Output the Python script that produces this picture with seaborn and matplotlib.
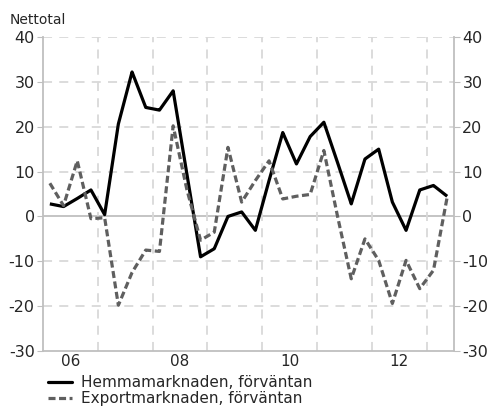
import numpy as np
import pandas as pd
import seaborn as sns
import matplotlib.pyplot as plt
from matplotlib.ticker import MultipleLocator, FixedLocator
from matplotlib.lines import Line2D

# quarterly data, 2006Q1 - 2013Q2
quarters = pd.period_range("2006Q1", "2013Q2", freq="Q")
hemma = [2.8, 2.2, 4.0, 5.9, 0.4, 20.6, 32.2, 24.3, 23.7, 28.0,
         9.5, -9.0, -7.2, 0.0, 1.0, -3.1, 8.0, 18.7, 11.7, 17.8,
         21.0, 12.0, 2.8, 12.8, 15.0, 3.2, -3.1, 5.9, 6.9, 4.5]
export = [7.4, 2.4, 12.4, -0.5, -0.3, -19.8, -12.5, -7.5, -7.8, 20.2,
          6.0, -5.3, -3.5, 15.4, 3.2, 8.0, 12.4, 3.9, 4.5, 4.9,
          14.7, 0.0, -13.9, -5.0, -9.8, -19.4, -9.8, -16.1, -12.0, 4.3]
year_labels = ["06", "08", "10", "12"]
label_years = [2006, 2008, 2010, 2012]
series_names = ["Hemmamarknaden, förväntan", "Exportmarknaden, förväntan"]

# x position at the middle of each quarter
xpos = np.array([q.year + (q.quarter - 1) / 4 + 0.125 for q in quarters])
df = pd.DataFrame({"x": np.concatenate([xpos, xpos]),
                   "value": hemma + export,
                   "serie": [series_names[0]] * len(hemma) + [series_names[1]] * len(export)})

sns.set_style("white")
plt.rcParams["font.family"] = ["DejaVu Sans"]
plt.rcParams["axes.unicode_minus"] = False

fig = plt.figure(figsize=(4.92, 4.08), dpi=100)
ax = fig.add_axes([0.0874, 0.1397, 0.8354, 0.7696])

grid_c = "#d9d9d9"
spine_c = "#bfbfbf"
dash_c = "#5f5f5f"

for y in range(-20, 41, 10):
    if y != 0:
        ax.axhline(y, color=grid_c, lw=1.3, ls=(0, (5, 4)), zorder=0)
ax.axhline(0, color=spine_c, lw=1.3, zorder=0)
for yr in range(2007, 2014):
    ax.axvline(yr, color=grid_c, lw=1.3, ls=(0, (5, 4)), zorder=0)

sns.lineplot(data=df, x="x", y="value", hue="serie", style="serie",
             palette=["black", dash_c], dashes=[(1, 0), (2.2, 1.1)],
             linewidth=2.3, ax=ax, legend=False, sort=False)

ax.set_xlim(2006, 2013.5)
ax.set_ylim(-30, 40)
ax.yaxis.set_major_locator(MultipleLocator(10))
ax.set_xticks([y + 0.5 for y in label_years])
ax.set_xticklabels(year_labels)
ax.xaxis.set_minor_locator(FixedLocator(np.arange(2006, 2013.51, 0.25)))
ax.tick_params(axis="x", which="major", length=0, pad=2, labelsize=11)
ax.tick_params(axis="x", which="minor", direction="in", length=3, color=spine_c, width=1)
ax.tick_params(axis="y", which="major", direction="out", length=4, color=spine_c,
               labelsize=11.5, left=True, right=True, labelleft=True, labelright=True, pad=2)
ax.set_xlabel("")
ax.set_ylabel("")

for s in ["left", "right", "bottom"]:
    ax.spines[s].set_color(spine_c)
    ax.spines[s].set_linewidth(1.3)
ax.spines["top"].set_visible(False)

fig.text(0.02, 0.951, "Nettotal", fontsize=10, ha="left", va="center")

# legend below the plot
handles = [Line2D([], [], color="black", lw=2.3),
           Line2D([], [], color=dash_c, lw=2.3, ls=(0, (2.2, 1.1)))]
fig.legend(handles, series_names, loc="upper left", bbox_to_anchor=(0.097, 0.08),
           frameon=False, fontsize=11, handlelength=1.6, handletextpad=0.6,
           labelspacing=0.05, borderaxespad=0, borderpad=0)

fig.savefig("out.png", dpi=100)
